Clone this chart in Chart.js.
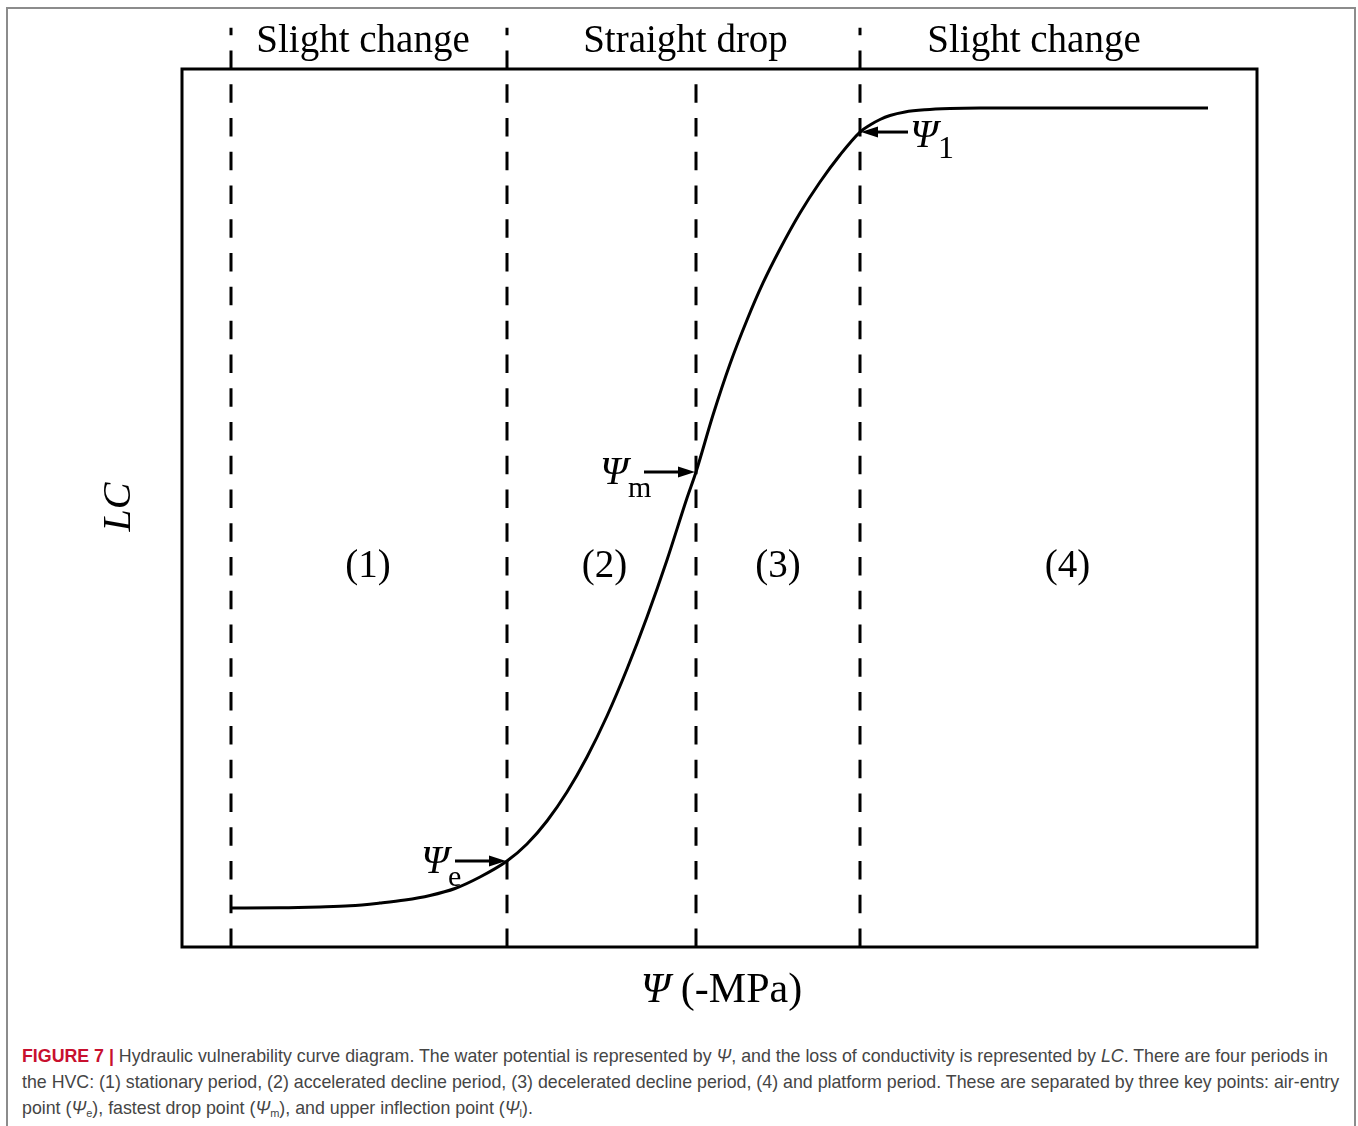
<!DOCTYPE html>
<html>
<head>
<meta charset="utf-8">
<script src="https://cdn.jsdelivr.net/npm/chart.js@4.4.1/dist/chart.umd.min.js"></script>
<style>
  html, body { margin: 0; padding: 0; background: #fff; overflow: hidden; }
  #frame {
    position: absolute; left: 6px; top: 7px; width: 1350px; height: 1140px;
    border: 2px solid #8c8c8c; box-sizing: border-box;
  }
  #hvc { position: absolute; left: 0; top: 0; }
  #caption {
    position: absolute; left: 22px; top: 1043px; width: 1330px;
    font-family: "Liberation Sans", Arial, sans-serif; font-size: 17.8px;
    line-height: 26px; color: #454545; white-space: nowrap;
  }
  #caption b { color: #c8102e; }
  #caption i { font-style: italic; }
  #caption sub { font-size: 11px; vertical-align: -3px; line-height: 0; }
</style>
</head>
<body>
<div id="frame"></div>
<canvas id="hvc" width="1358" height="1020"></canvas>
<div id="caption">
  <div><b>FIGURE 7 |</b> Hydraulic vulnerability curve diagram. The water potential is represented by <i>Ψ</i>, and the loss of conductivity is represented by <i>LC</i>. There are four periods in</div>
  <div>the HVC: (1) stationary period, (2) accelerated decline period, (3) decelerated decline period, (4) and platform period. These are separated by three key points: air-entry</div>
  <div>point (<i>Ψ</i><sub>e</sub>), fastest drop point (<i>Ψ</i><sub>m</sub>), and upper inflection point (<i>Ψ</i><sub>l</sub>).</div>
</div>

<script>
// Water potential (arbitrary units along the axis) and loss of conductivity (%)
const psi = [0.49, 0.98, 1.38, 1.68, 1.98, 2.23, 2.48, 2.73, 2.98, 3.25, 3.45, 3.65, 3.85,
             4.05, 4.25, 4.45, 4.65, 4.85, 5.05, 5.14, 5.31, 5.48, 5.65, 5.81, 5.98, 6.18,
             6.38, 6.58, 6.78, 6.88, 6.98, 7.08, 7.23, 7.43, 7.68, 7.98, 8.38, 10.26];
const lc  = [4.44, 4.46, 4.56, 4.69, 5.01, 5.35, 5.87, 6.66, 7.97, 9.79, 11.73, 14.35, 17.65,
             21.64, 26.31, 31.66, 37.59, 44.08, 51.14, 54.10, 60.59, 66.40, 71.41, 75.63, 79.50, 83.60,
             87.13, 90.21, 92.82, 93.62, 94.25, 94.70, 95.10, 95.35, 95.49, 95.55, 95.56, 95.56];

// Period boundaries: start, air-entry, fastest drop, upper inflection
const boundaries = [0.49, 3.25, 5.14, 6.78];
// how far each dashed line runs up (LC); the ones that separate the titles go past the frame
const boundaryTops = [104.7, 104.7, 100, 104.7];
const stageTitles = ['Slight change', 'Straight drop', 'Slight change'];
const periodLabels = ['(1)', '(2)', '(3)', '(4)'];

// Key points on the curve
const keyNames = ['e', 'm', '1'];
const keyPsi = [3.25, 5.14, 6.78];
const keyLc = [9.79, 54.10, 92.82];

const SERIF = '"Liberation Serif", "Times New Roman", serif';

const curveData = psi.map((x, i) => ({ x: x, y: lc[i] }));
const dashedSets = boundaries.map((b, i) => ({
  data: [{ x: b, y: 0 }, { x: b, y: boundaryTops[i] }],
  borderColor: '#000',
  borderWidth: 3,
  borderDash: [18.5, 15.27],
  borderCapStyle: 'butt',
  pointRadius: 0,
  clip: false,
  fill: false
}));

function arrow(ctx, x0, x1, y) {
  const dir = Math.sign(x1 - x0);
  const head = 17;
  ctx.beginPath();
  ctx.moveTo(x0, y);
  ctx.lineTo(x1 - dir * head, y);
  ctx.lineWidth = 3;
  ctx.stroke();
  ctx.beginPath();
  ctx.moveTo(x1, y);
  ctx.lineTo(x1 - dir * head, y - 5.5);
  ctx.lineTo(x1 - dir * head, y + 5.5);
  ctx.closePath();
  ctx.fill();
}

const decorPlugin = {
  id: 'decor',
  afterDatasetsDraw(chart) {
    const { ctx, chartArea: a, scales: { x, y } } = chart;
    ctx.save();
    ctx.strokeStyle = '#000';
    ctx.fillStyle = '#000';

    // plot frame
    ctx.lineWidth = 3;
    ctx.strokeRect(a.left, a.top, a.right - a.left, a.bottom - a.top);

    // stage titles above the frame
    const bx = boundaries.map(b => x.getPixelForValue(b));
    const curveEnd = x.getPixelForValue(psi[psi.length - 1]);
    const titleCenters = [(bx[0] + bx[1]) / 2 - 6, (bx[1] + bx[3]) / 2 + 2, (bx[3] + curveEnd) / 2];
    ctx.font = '39px ' + SERIF;
    ctx.textAlign = 'center';
    ctx.textBaseline = 'alphabetic';
    stageTitles.forEach((t, i) => ctx.fillText(t, titleCenters[i], 52));

    // period numbers
    const periodCenters = [(bx[0] + bx[1]) / 2 - 1, (bx[1] + bx[2]) / 2 + 3,
                           (bx[2] + bx[3]) / 2, (bx[3] + a.right) / 2 + 9];
    ctx.textBaseline = 'middle';
    periodLabels.forEach((t, i) => ctx.fillText(t, periodCenters[i], 567));

    // key point arrows and labels: [Ψ offset, subscript offset] from the arrow tail
    const labelOffsets = [[-34, -7], [-44, -16], [2, 30]];
    keyPsi.forEach((k, i) => {
      const px = x.getPixelForValue(k);
      const py = y.getPixelForValue(keyLc[i]);
      const tail = i < 2 ? px - 52 : px + 48;
      arrow(ctx, tail, i < 2 ? px - 1 : px + 1, py);
      ctx.textAlign = 'left';
      ctx.textBaseline = 'alphabetic';
      ctx.font = 'italic 40px ' + SERIF;
      ctx.fillText('Ψ', tail + labelOffsets[i][0], py + (i < 2 ? 12 : 15));
      ctx.font = (i < 2 ? '30px ' : '32px ') + SERIF;
      ctx.fillText(keyNames[i], tail + labelOffsets[i][1], py + (i < 2 ? 25 : 26));
    });

    // x axis title
    ctx.textBaseline = 'alphabetic';
    ctx.font = 'italic 42px ' + SERIF;
    const w1 = ctx.measureText('Ψ').width;
    ctx.font = '42px ' + SERIF;
    const rest = ' (-MPa)';
    const w2 = ctx.measureText(rest).width;
    const cx = (a.left + a.right) / 2 + 2;
    const start = cx - (w1 + w2) / 2;
    ctx.textAlign = 'left';
    ctx.font = 'italic 42px ' + SERIF;
    ctx.fillText('Ψ', start, 1002);
    ctx.font = '42px ' + SERIF;
    ctx.fillText(rest, start + w1, 1002);

    // y axis title
    ctx.translate(119, 507);
    ctx.rotate(-Math.PI / 2);
    ctx.font = 'italic 40px ' + SERIF;
    ctx.textAlign = 'center';
    ctx.textBaseline = 'middle';
    ctx.fillText('LC', 0, 0);
    ctx.restore();
  }
};

new Chart(document.getElementById('hvc'), {
  type: 'line',
  data: {
    datasets: [{
      data: curveData,
      borderColor: '#000',
      borderWidth: 3,
      cubicInterpolationMode: 'monotone',
      pointRadius: 0,
      fill: false
    }, ...dashedSets]
  },
  options: {
    responsive: false,
    animation: false,
    devicePixelRatio: 1,
    layout: { padding: { left: 182, top: 69, right: 101, bottom: 73 } },
    plugins: { legend: { display: false }, tooltip: { enabled: false } },
    scales: {
      x: { type: 'linear', min: 0, max: 10.75, display: false },
      y: { type: 'linear', min: 0, max: 100, display: false }
    }
  },
  plugins: [decorPlugin]
});
</script>
</body>
</html>
